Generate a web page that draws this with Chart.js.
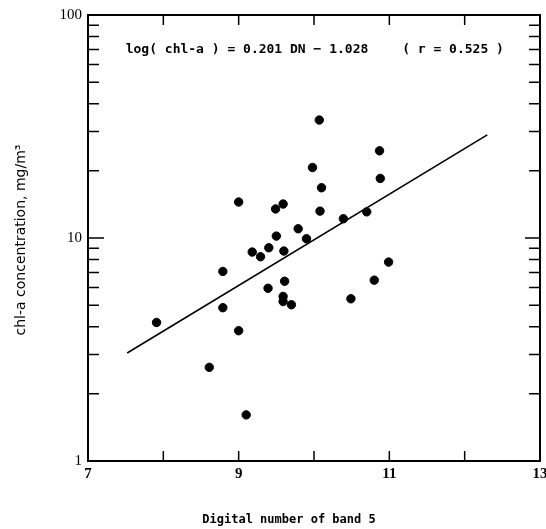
<!DOCTYPE html>
<html>
<head>
<meta charset="utf-8">
<script src="https://cdn.jsdelivr.net/npm/chart.js@4.4.0/dist/chart.umd.min.js"></script>
<style>
  html, body { margin: 0; padding: 0; background: #fff; }
</style>
</head>
<body>
<canvas id="chlChart" width="546" height="529"></canvas>
<script>
// measured stations: band 5 digital number vs chl-a
const digitalNumber = [
    7.91, 8.61, 8.79, 8.79, 9.00, 9.00, 9.10, 9.18, 9.29, 9.40, 9.39,
    9.49, 9.50, 9.59, 9.60, 9.61, 9.59, 9.59, 9.70, 9.79, 9.90, 9.98,
    10.07, 10.08, 10.10, 10.39, 10.49, 10.70, 10.80, 10.87, 10.88, 10.99
];
const chlConcentration = [
    4.18, 2.63, 7.08, 4.87, 14.5, 3.84, 1.61, 8.65, 8.24, 9.04, 5.95,
    13.5, 10.2, 14.2, 8.74, 6.40, 5.47, 5.19, 5.02, 11.0, 9.92, 20.7,
    33.8, 13.2, 16.8, 12.2, 5.34, 13.1, 6.47, 24.6, 18.5, 7.80
];

// regression line end points
const fitLineX = [7.52, 12.30];
const fitLineY = [3.05, 29.0];

const xTicks = [7, 8, 9, 10, 11, 12, 13];
const xTickLabels = [7, 9, 11, 13];
const yTickLabels = [1, 10, 100];
const yMinorTicks = [2, 3, 4, 5, 6, 7, 8, 9, 20, 30, 40, 50, 60, 70, 80, 90];

const equationText = 'log( chl-a ) = 0.201 DN \u2212 1.028';
const corrText = '( r = 0.525 )';
const xTitle = 'Digital number of band 5';
const yTitle = 'chl-a concentration, mg/m\u00b3';

const framePlugin = {
    id: 'frameTicks',
    afterDatasetsDraw(chart) {
        const { ctx, chartArea: a, scales: { x, y } } = chart;
        ctx.save();
        ctx.strokeStyle = '#000';
        ctx.lineWidth = 1.5;
        ctx.beginPath();
        xTicks.forEach(v => {
            const px = x.getPixelForValue(v);
            ctx.moveTo(px, a.bottom); ctx.lineTo(px, a.bottom - 10);
            ctx.moveTo(px, a.top); ctx.lineTo(px, a.top + 10);
        });
        yMinorTicks.forEach(v => {
            const py = y.getPixelForValue(v);
            ctx.moveTo(a.left, py); ctx.lineTo(a.left + 11, py);
            ctx.moveTo(a.right, py); ctx.lineTo(a.right - 11, py);
        });
        yTickLabels.forEach(v => {
            const py = y.getPixelForValue(v);
            ctx.moveTo(a.left, py); ctx.lineTo(a.left + 16, py);
            ctx.moveTo(a.right, py); ctx.lineTo(a.right - 15, py);
        });
        ctx.stroke();

        ctx.lineWidth = 2;
        ctx.strokeRect(a.left, a.top, a.right - a.left, a.bottom - a.top);
        ctx.restore();
    },
    afterDraw(chart) {
        const { ctx, scales: { x, y } } = chart;
        ctx.save();
        ctx.fillStyle = '#000';
        ctx.textBaseline = 'middle';
        ctx.textAlign = 'left';
        ctx.font = "bold 13px 'DejaVu Sans Mono'";
        ctx.fillText(equationText, x.getPixelForValue(7.5), y.getPixelForValue(70));
        ctx.fillText(corrText, x.getPixelForValue(11.17), y.getPixelForValue(70));

        ctx.textAlign = 'center';
        ctx.font = "bold 12px 'DejaVu Sans Mono'";
        ctx.fillText(xTitle, 289, 520);

        ctx.translate(21, 240);
        ctx.rotate(-Math.PI / 2);
        ctx.font = "14px 'DejaVu Sans'";
        ctx.fillText(yTitle, 0, 0);
        ctx.restore();
    }
};

new Chart(document.getElementById('chlChart'), {
    type: 'scatter',
    data: {
        datasets: [
            {
                label: 'stations',
                data: digitalNumber.map((v, i) => ({ x: v, y: chlConcentration[i] })),
                backgroundColor: '#000',
                borderColor: '#000',
                pointRadius: 4.2,
                pointHoverRadius: 4.2
            },
            {
                label: 'fit',
                data: fitLineX.map((v, i) => ({ x: v, y: fitLineY[i] })),
                showLine: true,
                borderColor: '#000',
                borderWidth: 1.6,
                pointRadius: 0
            }
        ]
    },
    options: {
        responsive: false,
        animation: false,
        layout: { padding: { top: 15, right: 6, left: 0, bottom: 0 } },
        plugins: { legend: { display: false }, tooltip: { enabled: false } },
        scales: {
            x: {
                type: 'linear',
                min: 7, max: 13,
                grid: { display: false, drawTicks: false },
                border: { display: false },
                afterBuildTicks: s => { s.ticks = xTickLabels.map(v => ({ value: v })); },
                afterFit: s => { s.height = 68; s.paddingLeft = 0; s.paddingRight = 6; },
                ticks: {
                    padding: 4,
                    color: '#000',
                    maxRotation: 0,
                    font: { family: "'Liberation Serif', serif", size: 15, weight: 'bold' }
                }
            },
            y: {
                type: 'logarithmic',
                min: 1, max: 100,
                grid: { display: false, drawTicks: false },
                border: { display: false },
                afterBuildTicks: s => { s.ticks = yTickLabels.map(v => ({ value: v })); },
                afterFit: s => { s.width = 88; },
                ticks: {
                    padding: 6,
                    color: '#000',
                    callback: v => String(v),
                    font: { family: "'Liberation Serif', serif", size: 15 }
                }
            }
        }
    },
    plugins: [framePlugin]
});
</script>
</body>
</html>
